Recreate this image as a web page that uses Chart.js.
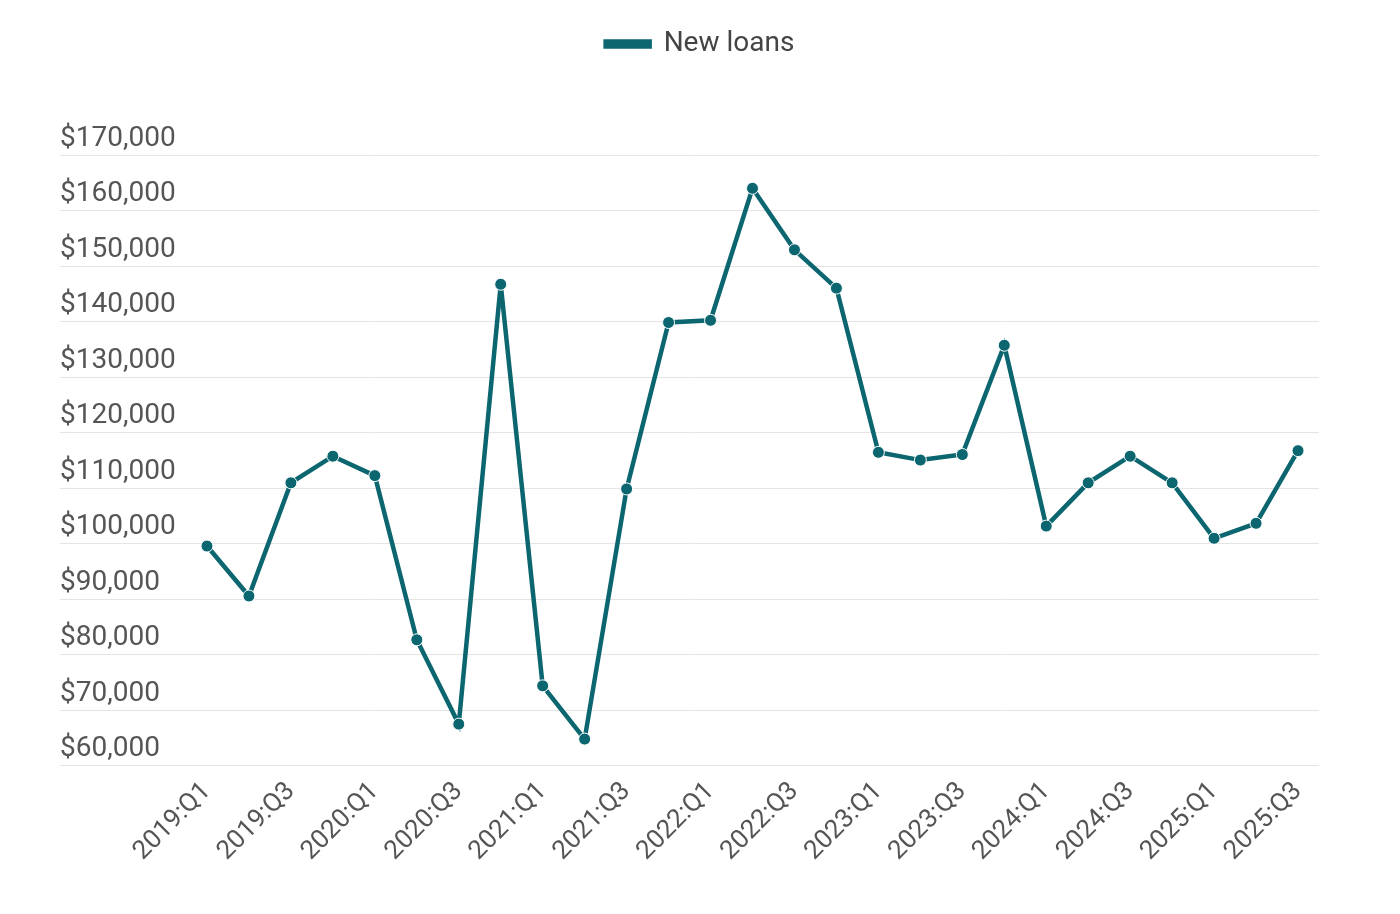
<!DOCTYPE html>
<html><head><meta charset="utf-8">
<script src="https://cdn.jsdelivr.net/npm/chart.js@4/dist/chart.umd.min.js"></script>
<style>html,body{margin:0;padding:0;background:#fff}#wrap{width:1400px;height:914px}</style>
</head><body><div id="wrap"><canvas id="c"></canvas></div>
<script>
const categories = [];
for (let y = 2019; y <= 2025; y++) for (let q = 1; q <= 4; q++) { if (y === 2025 && q > 3) break; categories.push(y + ':Q' + q); }
const newLoans = [99500,90500,110900,115700,112200,82600,67400,146700,74300,64700,109800,139800,140200,164000,152900,146000,116400,115000,116000,135700,103100,110900,115700,110900,100900,103600,116700];
const yTicks = [60000,70000,80000,90000,100000,110000,120000,130000,140000,150000,160000,170000];
const color = '#0b6670';
const fmt = v => '$' + v.toLocaleString('en-US');

const gridPlugin = {
  id: 'gridLabels',
  afterInit(chart) {
    const lg = chart.legend;
    const orig = lg.fit;
    lg.fit = function() { orig.call(this); this.height += 87; };
  },
  beforeDatasetsDraw(chart) {
    const {ctx, scales:{y}, chartArea} = chart;
    ctx.save();
    ctx.font = '28px Roboto';
    ctx.fillStyle = '#555';
    ctx.textBaseline = 'bottom';
    ctx.textAlign = 'left';
    yTicks.forEach(v => {
      const py = Math.round(y.getPixelForValue(v)) + 0.5;
      ctx.strokeStyle = '#e4e4e4';
      ctx.lineWidth = 1;
      ctx.beginPath(); ctx.moveTo(60, py); ctx.lineTo(chartArea.right, py); ctx.stroke();
      ctx.fillText(fmt(v), 60, py - 3);
    });
    ctx.restore();
  }
};

new Chart(document.getElementById('c'), {
  type: 'line',
  data: { labels: categories, datasets: [{ label: 'New loans', data: newLoans, borderColor: color, backgroundColor: color,
    borderWidth: 4.5, pointRadius: 6, pointBorderColor: '#fff', pointBorderWidth: 1, tension: 0, yAxisID: 'y' }] },
  options: {
    responsive: true, maintainAspectRatio: false, animation: false,
    layout: { padding: { left: 0, right: 0, top: 0, bottom: 44 } },
    plugins: {
      legend: { labels: { font: { size: 28, family: 'Roboto' }, color: '#444', boxWidth: 44, boxHeight: 5, padding: 30 } },
      tooltip: { enabled: false }
    },
    scales: {
      y: { position: 'left', min: 60000, max: 170000, grid: { display: false }, border: { display: false },
        ticks: { display: false }, afterFit(s) { s.width = 186; } },
      y2: { position: 'right', min: 60000, max: 170000, grid: { display: false }, border: { display: false },
        ticks: { display: false }, afterFit(s) { s.width = 81; } },
      x: { offset: true, grid: { display: false }, border: { display: false },
        ticks: { font: { size: 26, family: 'Roboto' }, color: '#555', maxRotation: 45, minRotation: 45,
          autoSkip: false, callback: function(v, i) { return i % 2 === 0 ? this.getLabelForValue(v) : ''; } } }
    }
  },
  plugins: [gridPlugin]
});
</script></body></html>
